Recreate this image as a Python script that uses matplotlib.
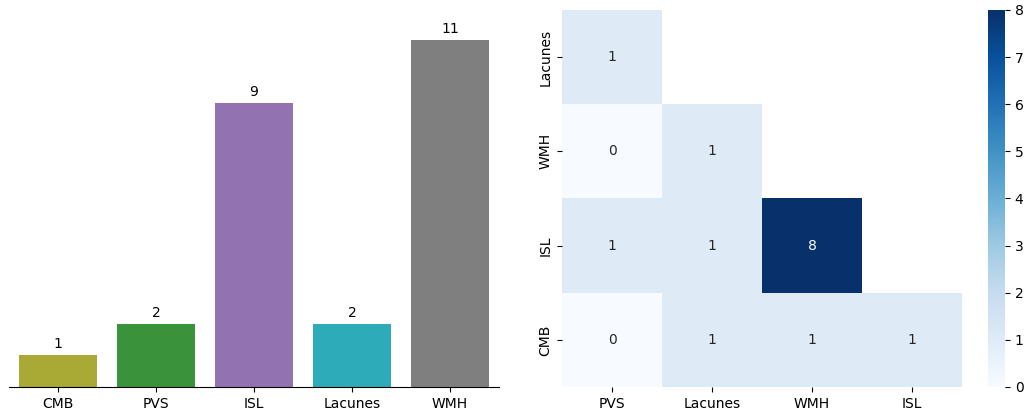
import colorsys
import numpy as np
import matplotlib
matplotlib.use("Agg")
import matplotlib.pyplot as plt
import matplotlib.colors as mcolors
import seaborn as sns

# Lesion counts per marker
categories = ["CMB", "PVS", "ISL", "Lacunes", "WMH"]
counts = [1, 2, 9, 2, 11]
bar_colors = ["tab:olive", "tab:green", "tab:purple", "tab:cyan", "tab:gray"]

# Co-occurrence matrix (lower triangle shown)
row_labels = ["Lacunes", "WMH", "ISL", "CMB"]
col_labels = ["PVS", "Lacunes", "WMH", "ISL"]
co_occurrence = [
    [1, 0, 0, 0],
    [0, 1, 0, 0],
    [1, 1, 8, 0],
    [0, 1, 1, 1],
]


def desaturate(color, prop=0.75):
    r, g, b = mcolors.to_rgb(color)
    h, l, s = colorsys.rgb_to_hls(r, g, b)
    return colorsys.hls_to_rgb(h, l, s * prop)


fig = plt.figure(figsize=(10.29, 4.18), dpi=100)
ax_bar = fig.add_axes([0.00875, 0.0742, 0.4762, 0.9055])
ax_hm = fig.add_axes([0.5462, 0.0742, 0.3887, 0.9019])
ax_cb = fig.add_axes([0.9602, 0.0742, 0.0165, 0.9019])

x = np.arange(len(categories))
bars = ax_bar.bar(x, counts, width=0.8,
                  color=[desaturate(c) for c in bar_colors])
ax_bar.bar_label(bars, padding=3, fontsize=10)
ax_bar.set_xticks(x)
ax_bar.set_xticklabels(categories)
ax_bar.set_xlim(-0.5, len(categories) - 0.5)
ax_bar.set_ylim(0, 12)
ax_bar.set_yticks([])
for side in ("left", "top", "right"):
    ax_bar.spines[side].set_visible(False)

data = np.array(co_occurrence, dtype=float)
mask = np.triu(np.ones_like(data, dtype=bool), k=1)
sns.heatmap(data, mask=mask, cmap="Blues", vmin=0, vmax=8, annot=True,
            fmt=".0f", xticklabels=col_labels, yticklabels=row_labels,
            ax=ax_hm, cbar_ax=ax_cb, annot_kws={"fontsize": 10})
ax_hm.tick_params(axis="y", rotation=90)
for lab in ax_hm.get_yticklabels():
    lab.set_va("center")

fig.savefig("out.png", dpi=100)
